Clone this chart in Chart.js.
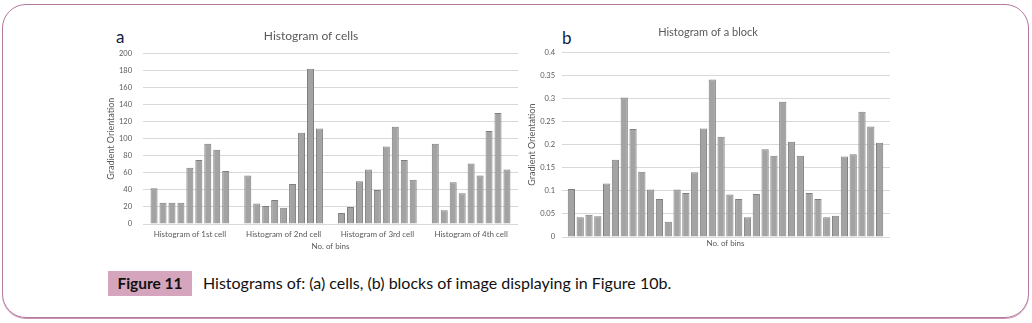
<!DOCTYPE html>
<html>
<head>
<meta charset="utf-8">
<script src="https://cdn.jsdelivr.net/npm/chart.js@4.4.1/dist/chart.umd.min.js"></script>
<style>
  html, body { margin: 0; padding: 0; background: #fff; }
  body { width: 1032px; height: 323px; position: relative; overflow: hidden; font-family: Lato, "Open Sans", sans-serif; }
  .frame {
    position: absolute; left: 2px; top: 4px; width: 1025px; height: 312px;
    border: 1px solid #b4799f; border-radius: 24px; box-shadow: 0 1px 0 #c996b3;
  }
  .panel { position: absolute; }
  .tag { position: absolute; font-size: 17px; color: #111a40; }
  .figno {
    position: absolute; left: 108px; top: 271px; width: 84px; height: 25px;
    background: #d4a5bc; color: #111; font-weight: bold; font-size: 15.5px;
    line-height: 25px; text-align: center;
  }
  .caption { position: absolute; left: 203px; top: 273px; font-size: 16px; color: #111; }
</style>
</head>
<body>
<div class="frame"></div>
<div class="tag" style="left:116px;top:26px;">a</div>
<div class="tag" style="left:562px;top:27px;">b</div>
<div class="panel" style="left:104px;top:25px;width:414px;height:227px;"><canvas id="cells"></canvas></div>
<div class="panel" style="left:526px;top:22px;width:364px;height:227px;"><canvas id="block"></canvas></div>
<div class="figno">Figure 11</div>
<div class="caption">Histograms of: (a) cells, (b) blocks of image displaying in Figure 10b.</div>
<script>
// histogram of cells: 9 orientation bins per cell
const cellLabels = ['Histogram of 1st cell', 'Histogram of 2nd cell', 'Histogram of 3rd cell', 'Histogram of 4th cell']
const cell1 = [42, 25, 25, 25, 66, 75, 94, 87, 62]
const cell2 = [57, 24, 21, 28, 19, 47, 107, 182, 112]
const cell3 = [13, 20, 50, 64, 40, 91, 114, 75, 52]
const cell4 = [94, 16, 49, 36, 71, 57, 109, 130, 64]
const cellTicks = [0, 20, 40, 60, 80, 100, 120, 140, 160, 180, 200]

// histogram of a block: the 4 cells concatenated (36 bins)
const blockValues = [
  0.104, 0.043, 0.048, 0.045, 0.116, 0.167, 0.302, 0.234, 0.141,
  0.103, 0.082, 0.033, 0.103, 0.095, 0.140, 0.235, 0.341, 0.217,
  0.092, 0.082, 0.043, 0.093, 0.190, 0.176, 0.293, 0.206, 0.176,
  0.095, 0.082, 0.043, 0.046, 0.174, 0.179, 0.271, 0.239, 0.204
]
const blockTicks = [0, 0.05, 0.1, 0.15, 0.2, 0.25, 0.3, 0.35, 0.4]

const textGrey = '#595959'
const gridGrey = '#d9d9d9'
const barFill = '#a3a3a3'
const barEdge = '#7f7f7f'

Chart.defaults.font.family = 'Lato'
Chart.defaults.animation = false

// one dataset per bin so the bins sit side by side inside each cell group
const cells = [cell1, cell2, cell3, cell4]
const binSets = cell1.map((_, bin) => ({
  data: cells.map(c => c[bin]),
  backgroundColor: barFill,
  borderColor: barEdge,
  borderWidth: 1,
  barPercentage: 0.78,
  categoryPercentage: 0.86,
}))

new Chart(document.getElementById('cells'), {
  type: 'bar',
  data: { labels: cellLabels, datasets: binSets },
  options: {
    responsive: true,
    maintainAspectRatio: false,
    layout: { padding: 0 },
    plugins: {
      legend: { display: false },
      tooltip: { enabled: false },
      title: {
        display: true, text: 'Histogram of cells', color: textGrey,
        font: { size: 12, weight: 'normal' }, padding: { top: 4, bottom: 10 },
      },
    },
    scales: {
      x: {
        afterFit: axis => { axis.height = 28 },
        grid: { display: false, drawTicks: false },
        border: { color: gridGrey },
        ticks: { color: textGrey, font: { size: 8 }, maxRotation: 0, padding: 6 },
        title: { display: true, text: 'No. of bins', color: textGrey, font: { size: 8 }, padding: 1 },
      },
      y: {
        min: 0, max: 200,
        afterBuildTicks: axis => { axis.ticks = cellTicks.map(v => ({ value: v })) },
        afterFit: axis => { axis.width = 39 },
        grid: { color: gridGrey, drawTicks: false },
        border: { display: false },
        ticks: { color: textGrey, font: { size: 7.5 }, padding: 11 },
        title: { display: true, text: 'Gradient Orientation', color: textGrey, font: { size: 9 }, padding: { top: 1.5, bottom: 0 } },
      },
    },
  },
})

// grid lines run a few px past the bars on both sides: tick marks on the
// left axis and on a bare mirror axis on the right supply that overhang
new Chart(document.getElementById('block'), {
  type: 'bar',
  data: {
    labels: blockValues.map((_, i) => i + 1),
    datasets: [{
      data: blockValues,
      backgroundColor: barFill,
      borderColor: barEdge,
      borderWidth: 1,
      barPercentage: 0.82,
      categoryPercentage: 1,
    }],
  },
  options: {
    responsive: true,
    maintainAspectRatio: false,
    layout: { padding: 0 },
    plugins: {
      legend: { display: false },
      tooltip: { enabled: false },
      title: {
        display: true, text: 'Histogram of a block', color: textGrey,
        font: { size: 11, weight: 'normal' }, padding: { top: 4, bottom: 13 },
      },
    },
    scales: {
      x: {
        afterFit: axis => { axis.height = 12 },
        grid: { display: false, drawTicks: false },
        border: { color: gridGrey },
        ticks: { display: false },
        title: { display: true, text: 'No. of bins', color: textGrey, font: { size: 8 }, padding: 1 },
      },
      y: {
        min: 0, max: 0.4,
        afterBuildTicks: axis => { axis.ticks = blockTicks.map(v => ({ value: v })) },
        afterFit: axis => { axis.width = 41 },
        grid: { color: gridGrey, drawTicks: true, tickLength: 5 },
        border: { display: false },
        ticks: { color: textGrey, font: { size: 7.5 }, padding: 7, callback: v => String(v) },
        title: { display: true, text: 'Gradient Orientation', color: textGrey, font: { size: 9 }, padding: { top: 1, bottom: 0 } },
      },
      yEdge: {
        position: 'right',
        min: 0, max: 0.4,
        afterBuildTicks: axis => { axis.ticks = blockTicks.map(v => ({ value: v })) },
        afterFit: axis => { axis.width = 6 },
        grid: { color: gridGrey, drawOnChartArea: false, drawTicks: true, tickLength: 6 },
        border: { display: false },
        ticks: { display: false },
      },
    },
  },
})
</script>
</body>
</html>
